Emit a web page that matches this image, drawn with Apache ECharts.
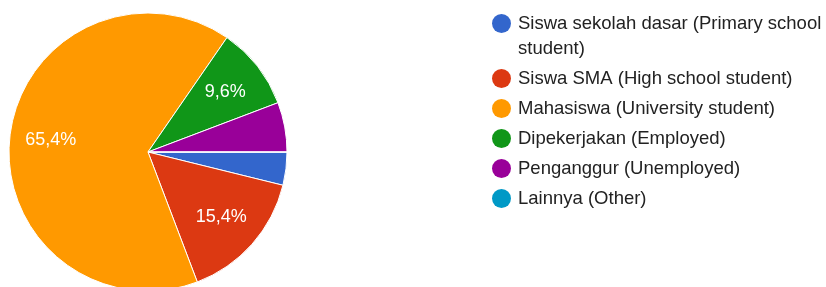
<!DOCTYPE html>
<html>
<head>
<meta charset="utf-8">
<script src="https://cdn.jsdelivr.net/npm/echarts@6/dist/echarts.min.js"></script>
<style>
html,body{margin:0;padding:0;background:#fff}
#main{width:826px;height:287px}
</style>
</head>
<body>
<div id="main"></div>
<script>
var categories = [
	"Siswa sekolah dasar (Primary school student)",
	"Siswa SMA (High school student)",
	"Mahasiswa (University student)",
	"Dipekerjakan (Employed)",
	"Penganggur (Unemployed)",
	"Lainnya (Other)"
];
var counts = [2, 8, 34, 5, 3, 0];
var colors = ["#3366cc", "#dc3912", "#ff9900", "#109618", "#990099", "#0099c6"];

var pieData = [];
for (var i = 0; i < categories.length; i++) {
	pieData.push({name: categories[i], value: counts[i]});
}

//long legend names wrap onto a second line, icon stays on the first line
function wrapName(name){
	if (name.length <= 36) return name;
	var cut = name.lastIndexOf(" ", 36);
	return "\n" + name.slice(0, cut) + "\n" + name.slice(cut + 1);
}

var myChart = echarts.init(document.getElementById("main"));
myChart.setOption({
	animation: false,
	color: colors,
	legend: {
		orient: "vertical",
		left: 492,
		top: -14,
		padding: 0,
		itemWidth: 19,
		itemHeight: 19,
		itemGap: 5,
		icon: "circle",
		itemStyle: {borderWidth: 0},
		formatter: wrapName,
		textStyle: {
			fontFamily: "Liberation Sans",
			fontSize: 18.5,
			color: "#222",
			lineHeight: 25,
			padding: [0, 0, 0, 2]
		}
	},
	series: [{
		type: "pie",
		center: [148, 152],
		radius: 139,
		startAngle: 0,
		clockwise: true,
		silent: true,
		label: {show: false},
		labelLine: {show: false},
		itemStyle: {borderColor: "#fff", borderWidth: 1},
		data: pieData
	}, {
		//transparent ring, only used to place the percent labels
		type: "pie",
		center: [148, 152],
		radius: [51, 139],
		startAngle: 0,
		clockwise: true,
		silent: true,
		minShowLabelAngle: 25,
		itemStyle: {color: "rgba(0,0,0,0)", borderWidth: 0},
		label: {
			show: true,
			position: "inside",
			color: "#fff",
			fontFamily: "Liberation Sans",
			fontSize: 18,
			formatter: function(p){
				return p.percent.toFixed(1).replace(".", ",") + "%";
			}
		},
		labelLine: {show: false},
		data: pieData
	}]
});
</script>
</body>
</html>
